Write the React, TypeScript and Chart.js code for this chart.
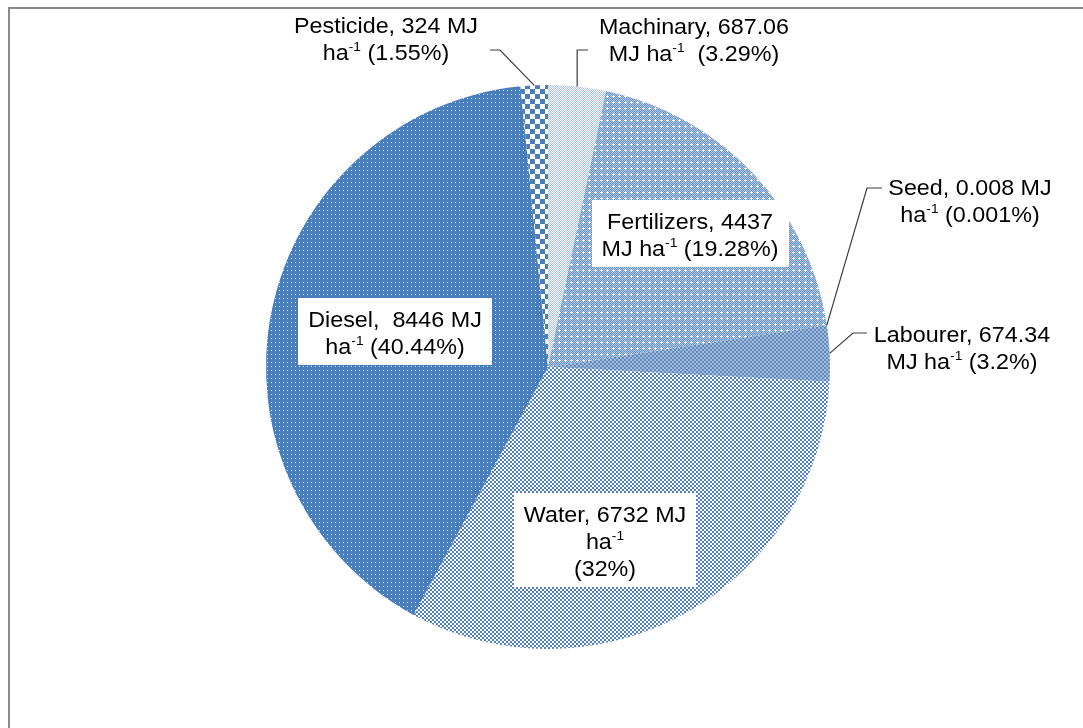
import React, { useEffect, useRef } from 'react';
import { Chart, registerables } from 'chart.js';

Chart.register(...registerables);

// ---- Data ----
const categories = ['Machinary', 'Fertilizers', 'Seed', 'Labourer', 'Water', 'Diesel', 'Pesticide'];
const energyMJ = ['687.06', '4437', '0.008', '674.34', '6732', '8446', '324'];
const sharePercent = [3.29, 19.28, 0.001, 3.2, 32, 40.44, 1.55];
const labelLines: string[][] = [
  ['Machinary, 687.06', 'MJ ha^{-1}  (3.29%)'],
  ['Fertilizers, 4437', 'MJ ha^{-1} (19.28%)'],
  ['Seed, 0.008 MJ', 'ha^{-1} (0.001%)'],
  ['Labourer, 674.34', 'MJ ha^{-1} (3.2%)'],
  ['Water, 6732 MJ', 'ha^{-1}', '(32%)'],
  ['Diesel,  8446 MJ', 'ha^{-1} (40.44%)'],
  ['Pesticide, 324 MJ', 'ha^{-1} (1.55%)'],
];

// ---- Layout (page coordinates) ----
const ORIGIN_X = 10;
const ORIGIN_Y = 9;
const CANVAS_W = 1073;
const CANVAS_H = 719;
const FONT_SIZE = 22;
const TEXT_SCALE_X = 1.06;
const LINE_H = 27;

type LabelLayout = {
  cx: number;
  b1: number;
  box: boolean;
  leader?: { start: [number, number]; elbow: [number, number] | 'vertical' };
};
const labelLayout: LabelLayout[] = [
  { cx: 694, b1: 33.5, box: false, leader: { start: [588, 50], elbow: 'vertical' } },
  { cx: 690, b1: 228.5, box: true },
  { cx: 970, b1: 194.5, box: false, leader: { start: [882, 188], elbow: [867, 188] } },
  { cx: 962, b1: 341.5, box: false, leader: { start: [867, 333], elbow: [853, 333] } },
  { cx: 605, b1: 522, box: true },
  { cx: 395, b1: 327, box: true },
  { cx: 386, b1: 33, box: false, leader: { start: [490, 50], elbow: [500, 50] } },
];

const BLUE = '#4a7ebb';

function makePattern(size: number, draw: (c: CanvasRenderingContext2D) => void): CanvasPattern | string {
  const cv = document.createElement('canvas');
  cv.width = size;
  cv.height = size;
  const c = cv.getContext('2d');
  if (!c) return BLUE;
  draw(c);
  const p = c.createPattern(cv, 'repeat');
  return p || BLUE;
}

function buildPatterns() {
  const machinary = makePattern(2, (c) => {
    c.fillStyle = '#f4f7fb';
    c.fillRect(0, 0, 2, 2);
    c.fillStyle = '#b1c6e0';
    c.fillRect(0, 0, 1, 1);
    c.fillRect(1, 1, 1, 1);
  });
  const fertilizers = makePattern(6, (c) => {
    for (let y = 0; y < 6; y++) {
      for (let x = 0; x < 6; x++) {
        c.fillStyle = (x + y) % 2 === 0 ? '#6a93c6' : '#b0c6e2';
        c.fillRect(x, y, 1, 1);
      }
    }
    c.fillStyle = '#ffffff';
    c.fillRect(3, 3, 1, 1);
    c.fillRect(2, 3, 1, 1);
    c.fillRect(4, 3, 1, 1);
    c.fillRect(3, 2, 1, 1);
    c.fillRect(3, 4, 1, 1);
  });
  const seed = makePattern(4, (c) => {
    c.fillStyle = '#7e9ec6';
    c.fillRect(0, 0, 4, 4);
  });
  const labourer = makePattern(4, (c) => {
    c.fillStyle = '#a7bedb';
    c.fillRect(0, 0, 4, 4);
    c.fillStyle = '#5e89bf';
    c.fillRect(0, 0, 2, 2);
    c.fillRect(2, 2, 2, 2);
  });
  const water = makePattern(4, (c) => {
    c.fillStyle = '#ffffff';
    c.fillRect(0, 0, 4, 4);
    c.fillStyle = '#5080bc';
    c.fillRect(0, 0, 2, 2);
    c.fillRect(2, 2, 2, 2);
  });
  const diesel = makePattern(4, (c) => {
    c.fillStyle = BLUE;
    c.fillRect(0, 0, 4, 4);
    c.fillStyle = '#e3ebf5';
    c.fillRect(1, 1, 1, 1);
  });
  const pesticide = makePattern(10, (c) => {
    c.fillStyle = '#ffffff';
    c.fillRect(0, 0, 10, 10);
    c.fillStyle = BLUE;
    c.fillRect(0, 0, 5, 5);
    c.fillRect(5, 5, 5, 5);
  });
  return [machinary, fertilizers, seed, labourer, water, diesel, pesticide];
}

function parseLine(line: string) {
  return line
    .split(/(\^\{[^}]*\})/)
    .filter((p) => p.length > 0)
    .map((p) => (p.startsWith('^{') ? { t: p.slice(2, -1), sup: true } : { t: p, sup: false }));
}

const mainFont = `${FONT_SIZE}px "Liberation Sans", Arial, sans-serif`;
const supFont = `${Math.round(FONT_SIZE * 0.6)}px "Liberation Sans", Arial, sans-serif`;

function lineWidth(ctx: CanvasRenderingContext2D, line: string) {
  let w = 0;
  for (const p of parseLine(line)) {
    ctx.font = p.sup ? supFont : mainFont;
    w += ctx.measureText(p.t).width;
  }
  return w * TEXT_SCALE_X;
}

function drawLine(ctx: CanvasRenderingContext2D, line: string, cx: number, baseline: number) {
  const parts = parseLine(line);
  const w = lineWidth(ctx, line) / TEXT_SCALE_X;
  ctx.save();
  ctx.translate(cx, baseline);
  ctx.scale(TEXT_SCALE_X, 1);
  ctx.fillStyle = '#000000';
  ctx.textBaseline = 'alphabetic';
  ctx.textAlign = 'left';
  let x = -w / 2;
  for (const p of parts) {
    ctx.font = p.sup ? supFont : mainFont;
    ctx.fillText(p.t, x, p.sup ? -FONT_SIZE * 0.4 : 0);
    x += ctx.measureText(p.t).width;
  }
  ctx.restore();
}

const labelPlugin = {
  id: 'pieLabels',
  afterDatasetsDraw(chart: any) {
    const ctx: CanvasRenderingContext2D = chart.ctx;
    const meta = chart.getDatasetMeta(0);
    ctx.save();
    labelLayout.forEach((lay, i) => {
      const arc = meta.data[i];
      if (!arc) return;
      const props = arc.getProps(['x', 'y', 'startAngle', 'endAngle', 'outerRadius'], true);
      const mid = (props.startAngle + props.endAngle) / 2;
      const ax = props.x + Math.cos(mid) * props.outerRadius;
      const ay = props.y + Math.sin(mid) * props.outerRadius;
      const lines = labelLines[i];
      const cx = lay.cx - ORIGIN_X;
      const b1 = lay.b1 - ORIGIN_Y;
      if (lay.leader) {
        const sx = lay.leader.start[0] - ORIGIN_X;
        const sy = lay.leader.start[1] - ORIGIN_Y;
        ctx.beginPath();
        ctx.strokeStyle = '#3c3c3c';
        ctx.lineWidth = 1.2;
        if (lay.leader.elbow === 'vertical') {
          ctx.moveTo(sx, sy);
          ctx.lineTo(ax, sy);
          ctx.lineTo(ax, ay);
        } else {
          ctx.moveTo(sx, sy);
          ctx.lineTo(lay.leader.elbow[0] - ORIGIN_X, lay.leader.elbow[1] - ORIGIN_Y);
          ctx.lineTo(ax, ay);
        }
        ctx.stroke();
      }
      if (lay.box) {
        let maxW = 0;
        for (const l of lines) maxW = Math.max(maxW, lineWidth(ctx, l));
        const top = b1 - 29;
        const bottom = b1 + (lines.length - 1) * LINE_H + 11;
        const w = maxW + 20;
        ctx.fillStyle = '#ffffff';
        ctx.fillRect(Math.round(cx - w / 2), Math.round(top), Math.round(w), Math.round(bottom - top));
      }
      lines.forEach((l, k) => drawLine(ctx, l, cx, b1 + k * LINE_H));
    });
    ctx.restore();
  },
};

export default function App() {
  const ref = useRef<HTMLCanvasElement | null>(null);
  useEffect(() => {
    document.body.style.overflow = 'hidden';
    const canvas = ref.current;
    if (!canvas) return;
    const patterns = buildPatterns();
    const chart = new Chart(canvas, {
      type: 'pie',
      data: {
        labels: categories.map((c, i) => `${c}, ${energyMJ[i]} MJ ha-1`),
        datasets: [
          {
            data: sharePercent,
            backgroundColor: patterns as any,
            borderWidth: 0,
            hoverOffset: 0,
          },
        ],
      },
      options: {
        responsive: false,
        animation: false,
        devicePixelRatio: 1,
        layout: { padding: { left: 3, right: 0, top: 76, bottom: 79 } },
        plugins: {
          legend: { display: false },
          tooltip: { enabled: false },
        },
        events: [],
      },
      plugins: [labelPlugin],
    });
    return () => chart.destroy();
  }, []);
  return (
    <div
      style={{
        position: 'absolute',
        left: 8,
        top: 7,
        borderTop: '2px solid #8a8a8a',
        borderLeft: '2px solid #8a8a8a',
        width: CANVAS_W,
        height: CANVAS_H,
        background: '#ffffff',
      }}
    >
      <canvas ref={ref} width={CANVAS_W} height={CANVAS_H} style={{ display: 'block' }} />
    </div>
  );
}
